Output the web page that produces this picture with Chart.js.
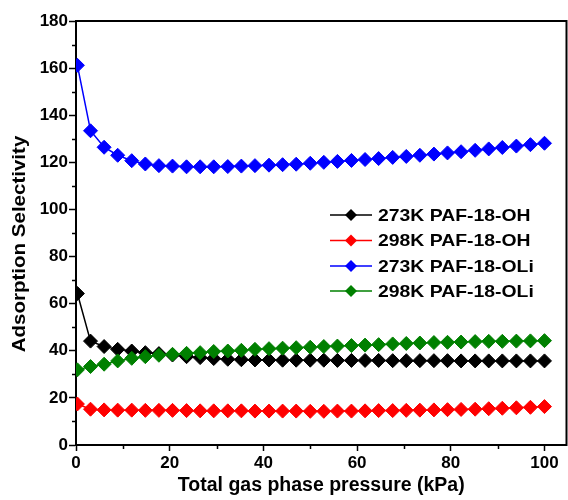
<!DOCTYPE html>
<html>
<head>
<meta charset="utf-8">
<script src="https://cdn.jsdelivr.net/npm/chart.js@4"></script>
<style>
  html, body { margin: 0; padding: 0; background: #fff; }
  #wrap { width: 568px; height: 500px; }
</style>
</head>
<body>
<div id="wrap"><canvas id="selChart" width="568" height="500"></canvas></div>
<script>
// pressure (kPa) of each measured point
const pressure = [0.3, 3.1, 6.0, 8.9, 11.9, 14.8, 17.7, 20.6, 23.6, 26.5, 29.4, 32.4, 35.3, 38.2, 41.2,
  44.1, 47.0, 50.0, 52.9, 55.8, 58.8, 61.7, 64.6, 67.6, 70.5, 73.4, 76.4, 79.3, 82.2, 85.2, 88.1, 91.0, 94.0, 97.0, 100];

const oh273 = [64.3, 44.1, 41.8, 40.6, 39.9, 39.2, 38.8, 38.2, 37.5, 37.1, 36.7, 36.4, 36.2, 36.1, 36.1, 36.0, 36.0,
  36.0, 36.0, 35.9, 35.9, 35.9, 35.9, 35.8, 35.8, 35.8, 35.8, 35.8, 35.7, 35.7, 35.7, 35.7, 35.7, 35.7, 35.7];
const oh298 = [17.4, 15.2, 14.9, 14.8, 14.8, 14.7, 14.7, 14.7, 14.6, 14.5, 14.5, 14.5, 14.5, 14.4, 14.4, 14.4, 14.4,
  14.3, 14.3, 14.4, 14.4, 14.5, 14.6, 14.6, 14.7, 14.8, 14.9, 15.0, 15.1, 15.2, 15.4, 15.6, 15.8, 16.0, 16.3];
const oli273 = [161.2, 133.4, 126.4, 123.0, 120.7, 119.3, 118.6, 118.4, 118.1, 118.1, 118.1, 118.2, 118.4, 118.6, 118.8, 119.0, 119.2,
  119.6, 120.0, 120.4, 120.8, 121.2, 121.6, 122.1, 122.5, 123.0, 123.5, 124.0, 124.5, 125.1, 125.7, 126.3, 126.9, 127.5, 128.1];
const oli298 = [31.9, 33.3, 34.3, 35.7, 36.8, 37.5, 38.1, 38.5, 38.9, 39.2, 39.7, 39.9, 40.2, 40.6, 40.9, 41.1, 41.3,
  41.5, 41.8, 42.0, 42.2, 42.4, 42.6, 42.9, 43.1, 43.3, 43.5, 43.6, 43.7, 43.9, 44.0, 44.0, 44.1, 44.2, 44.3];

const seriesNames = ['273K PAF-18-OH', '298K PAF-18-OH', '273K PAF-18-OLi', '298K PAF-18-OLi'];
const seriesColors = ['#000000', '#ff0000', '#0000ff', '#008000'];

const xTicks = [0, 20, 40, 60, 80, 100];
const xMinor = [10, 30, 50, 70, 90];
const yTicks = [0, 20, 40, 60, 80, 100, 120, 140, 160, 180];
const yMinor = [10, 30, 50, 70, 90, 110, 130, 150, 170];

const FONT = '"Liberation Sans", Arial, sans-serif';

function toPoints(values) {
  return values.map((v, i) => ({ x: pressure[i], y: v }));
}

const allSeries = [oh273, oh298, oli273, oli298];
const drawOrder = [3, 2, 1, 0];

const datasets = allSeries.map((vals, i) => ({
  label: seriesNames[i],
  data: toPoints(vals),
  borderColor: seriesColors[i],
  backgroundColor: seriesColors[i],
  borderWidth: 1.5,
  pointStyle: 'rectRot',
  pointRadius: 7,
  pointHoverRadius: 7,
  pointBorderWidth: 1,
  tension: 0,
  order: drawOrder[i],
  clip: { left: 0, top: 10, right: 10, bottom: 10 }
}));

// draw text stretched a little wider, like the original figure's font
function wideText(ctx, text, x, y, sx) {
  ctx.save();
  ctx.translate(x, y);
  ctx.scale(sx, 1);
  ctx.fillText(text, 0, 0);
  ctx.restore();
}

// frame, minor ticks and the y axis title
const framePlugin = {
  id: 'frame',
  afterDraw(chart) {
    const { ctx, chartArea: a, scales } = chart;
    ctx.save();
    ctx.strokeStyle = '#000';
    ctx.lineWidth = 2;
    ctx.beginPath();
    ctx.moveTo(a.left - 1, a.top);
    ctx.lineTo(a.right, a.top);
    ctx.lineTo(a.right, a.bottom + 1);
    ctx.stroke();

    ctx.lineWidth = 1.5;
    ctx.beginPath();
    yMinor.forEach(v => {
      const y = Math.round(scales.y.getPixelForValue(v)) + 0.5;
      ctx.moveTo(a.left - 4, y);
      ctx.lineTo(a.left, y);
    });
    xMinor.forEach(v => {
      const x = Math.round(scales.x.getPixelForValue(v)) + 0.5;
      ctx.moveTo(x, a.bottom);
      ctx.lineTo(x, a.bottom + 4);
    });
    ctx.stroke();

    ctx.fillStyle = '#000';
    ctx.font = 'bold 19px ' + FONT;
    ctx.textAlign = 'center';
    ctx.textBaseline = 'middle';
    ctx.translate(20, 244);
    ctx.rotate(-Math.PI / 2);
    wideText(ctx, 'Adsorption Selectivity', 0, 0, 1.08);
    ctx.restore();
  }
};

// legend drawn inside the plot, like the original figure
const legendPlugin = {
  id: 'insideLegend',
  afterDraw(chart) {
    const ctx = chart.ctx;
    const rows = [215, 240.5, 266, 291];
    ctx.save();
    ctx.font = 'bold 17px ' + FONT;
    ctx.textBaseline = 'middle';
    ctx.textAlign = 'left';
    seriesNames.forEach((name, i) => {
      const y = rows[i];
      ctx.strokeStyle = seriesColors[i];
      ctx.fillStyle = seriesColors[i];
      ctx.lineWidth = 1.5;
      ctx.beginPath();
      ctx.moveTo(330, y);
      ctx.lineTo(372, y);
      ctx.stroke();
      const r = 6;
      ctx.beginPath();
      ctx.moveTo(351, y - r);
      ctx.lineTo(351 + r, y);
      ctx.lineTo(351, y + r);
      ctx.lineTo(351 - r, y);
      ctx.closePath();
      ctx.fill();
      ctx.fillStyle = '#000';
      wideText(ctx, name, 378, y + 1, 1.14);
    });
    ctx.restore();
  }
};

const ctx = document.getElementById('selChart').getContext('2d');

const selChart = new Chart(ctx, {
  type: 'line',
  data: { datasets: datasets },
  plugins: [framePlugin, legendPlugin],
  options: {
    responsive: false,
    animation: false,
    events: [],
    layout: { autoPadding: false, padding: { left: 0, top: 21, right: 1.5, bottom: 0 } },
    plugins: {
      legend: { display: false },
      tooltip: { enabled: false },
      title: { display: false }
    },
    scales: {
      x: {
        type: 'linear',
        min: 0,
        max: 104.7,
        afterBuildTicks: scale => { scale.ticks = xTicks.map(v => ({ value: v })); },
        afterFit: scale => { scale.height = 55; },
        grid: {
          drawOnChartArea: false,
          drawTicks: true,
          tickLength: 6,
          tickColor: '#000',
          tickWidth: 1.5
        },
        border: { display: true, color: '#000', width: 2 },
        ticks: {
          color: '#000',
          padding: 2,
          maxRotation: 0,
          font: { family: FONT, size: 17, weight: 'bold' }
        },
        title: {
          display: true,
          text: 'Total gas phase pressure (kPa)',
          color: '#000',
          padding: { top: 2, bottom: 3 },
          font: { family: FONT, size: 19.5, weight: 'bold' }
        }
      },
      y: {
        type: 'linear',
        min: 0,
        max: 180,
        afterBuildTicks: scale => { scale.ticks = yTicks.map(v => ({ value: v })); },
        afterFit: scale => { scale.width = 76; },
        grid: {
          drawOnChartArea: false,
          drawTicks: true,
          tickLength: 7,
          tickColor: '#000',
          tickWidth: 1.5
        },
        border: { display: true, color: '#000', width: 2 },
        ticks: {
          color: '#000',
          padding: 1,
          font: { family: FONT, size: 17, weight: 'bold' }
        },
        title: { display: false }
      }
    }
  }
});
</script>
</body>
</html>
